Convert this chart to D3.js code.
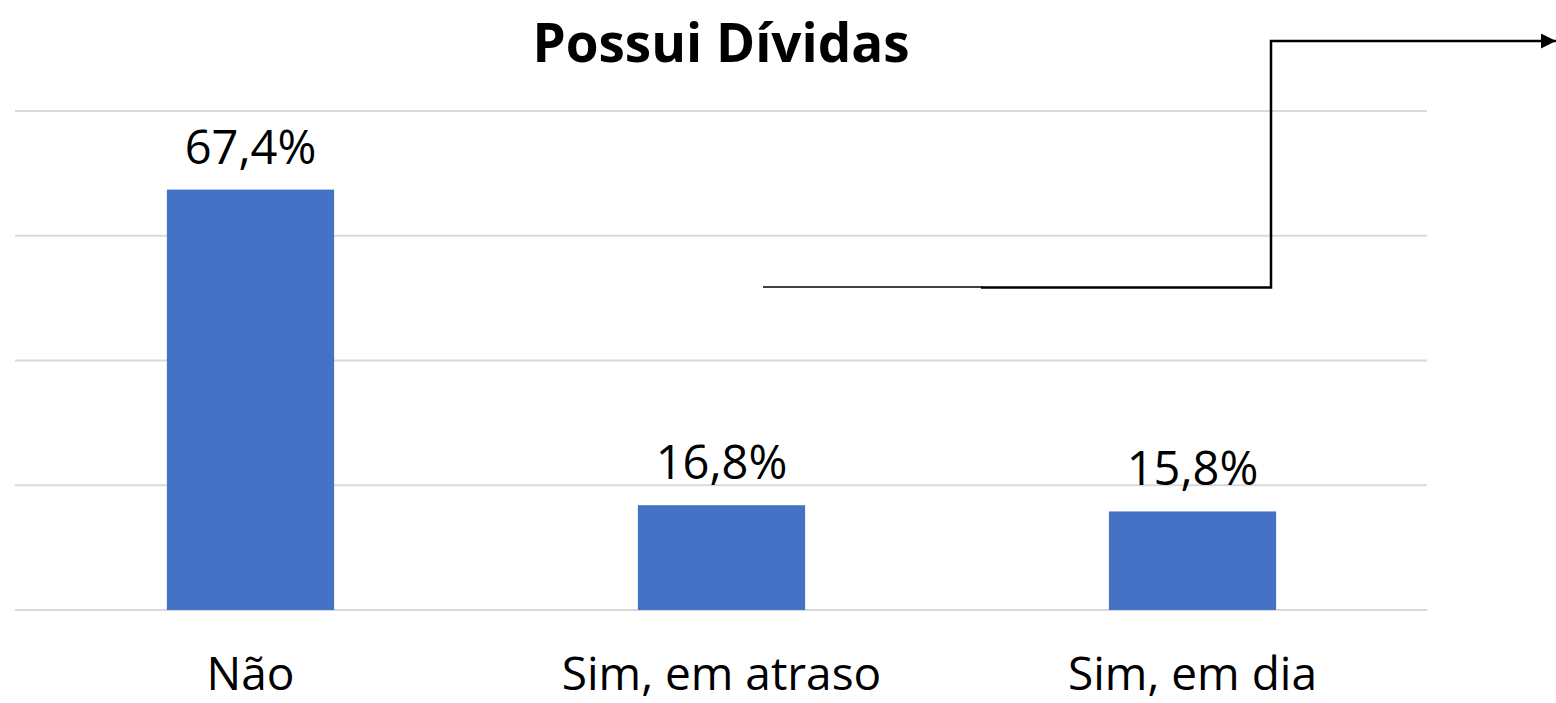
<!DOCTYPE html>
<html>
<head>
<meta charset="utf-8">
<script src="https://cdn.jsdelivr.net/npm/d3@7"></script>
<style>
    body { margin: 0; background: #fff; }
    svg { display: block; font-family: "Open Sans", "Noto Sans", sans-serif; }
</style>
</head>
<body>
<svg id="chart"></svg>
<script>
var categorias = ["Não", "Sim, em atraso", "Sim, em dia"];
var valores = [67.4, 16.8, 15.8];
var ticks = [0, 20, 40, 60, 80];

const width = 1556;
const height = 703;
const svg = d3.select("#chart")
    .attr("width", width)
    .attr("height", height);

const x = d3.scaleBand()
    .domain(categorias)
    .range([15, 1428])
    .paddingInner(0.645)
    .paddingOuter(0.3225);

const y = d3.scaleLinear()
    .domain([0, 80])
    .range([610, 111]);

// grade
svg.append("g")
    .selectAll("line")
    .data(ticks)
    .join("line")
    .attr("x1", 15)
    .attr("x2", 1427)
    .attr("y1", d => y(d))
    .attr("y2", d => y(d))
    .attr("stroke", "#d9d9d9")
    .attr("stroke-width", 2);

// titulo
svg.append("text")
    .attr("x", 721)
    .attr("y", 62)
    .attr("text-anchor", "middle")
    .style("font-size", "53px")
    .style("font-weight", "bold")
    .text("Possui Dívidas");

// barras
svg.append("g")
    .selectAll("rect")
    .data(valores)
    .join("rect")
    .attr("x", (d, i) => x(categorias[i]))
    .attr("y", d => y(d))
    .attr("width", x.bandwidth())
    .attr("height", d => y(0) - y(d))
    .attr("fill", "#4472c4");

// rotulos dos valores
svg.append("g")
    .selectAll("text")
    .data(valores)
    .join("text")
    .attr("x", (d, i) => x(categorias[i]) + x.bandwidth() / 2)
    .attr("y", d => y(d) - 26)
    .attr("text-anchor", "middle")
    .style("font-size", "47px")
    .text(d => d.toFixed(1).replace(".", ",") + "%");

// categorias
svg.append("g")
    .selectAll("text")
    .data(categorias)
    .join("text")
    .attr("x", d => x(d) + x.bandwidth() / 2)
    .attr("y", 690)
    .attr("text-anchor", "middle")
    .style("font-size", "46px")
    .text(d => d);

// seta
svg.append("defs").append("marker")
    .attr("id", "seta")
    .attr("viewBox", "0 0 10 10")
    .attr("refX", 10)
    .attr("refY", 5)
    .attr("markerWidth", 6)
    .attr("markerHeight", 6)
    .attr("markerUnits", "strokeWidth")
    .attr("orient", "auto")
    .append("path")
    .attr("d", "M0,0L10,5L0,10Z")
    .attr("fill", "#000");

svg.append("line")
    .attr("x1", 763).attr("x2", 982)
    .attr("y1", 287).attr("y2", 287)
    .attr("stroke", "#000")
    .attr("stroke-width", 1.5);

svg.append("path")
    .attr("d", "M981,287.5H1271V41H1556")
    .attr("fill", "none")
    .attr("stroke", "#000")
    .attr("stroke-width", 2.5)
    .attr("marker-end", "url(#seta)");
</script>
</body>
</html>
